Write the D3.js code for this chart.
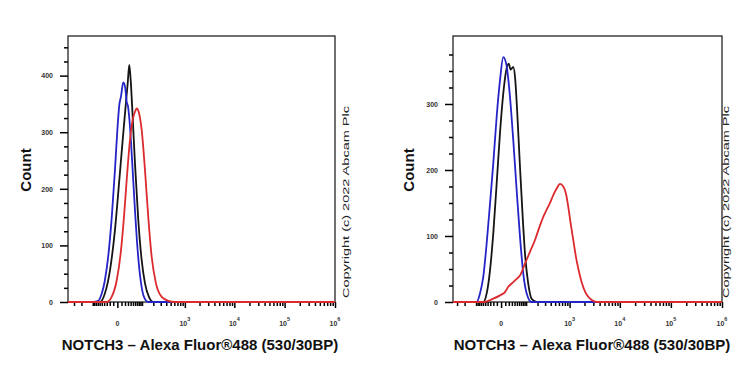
<!DOCTYPE html>
<html>
<head>
<meta charset="utf-8">
<script src="https://cdn.jsdelivr.net/npm/d3@7"></script>
<style>
  body { margin: 0; background: #fff; }
  svg { display: block; }
  text { font-family: "Liberation Sans", Arial, sans-serif; }
</style>
</head>
<body>
<svg id="chart" width="750" height="375"></svg>
<script>
// histogram points: [fluorescence, count]
const leftBlue = [[-96,0],[-67,2],[-50,15],[-37,38],[-25,80],[-14,150],[-5.6,233],[0,304],[4.4,348],[8.6,363],[14.9,388],[20.9,378],[25.4,354],[29.9,346],[37.4,310],[46.8,245],[59.3,162],[73.4,91],[91.2,38],[114,9],[149,0]];
const leftBlack = [[-58,0],[-37,15],[-19.3,56],[-5.6,127],[4.4,215],[13.2,286],[20.9,339],[28.9,386],[34.7,419],[40.2,392],[48.6,327],[59.3,245],[76.8,145],[97.8,74],[121.6,33],[155,9],[200,0]];
const leftRed = [[-30.3,0],[-14.3,9],[-1.5,38],[7.8,86],[16.9,150],[25.4,215],[37.4,286],[48.6,322],[59.3,336],[68,342],[79,336],[97.8,304],[121.6,233],[149,150],[182,80],[232,33],[316,9],[444,2],[620,0]];

const rightBlue = [[-96,0],[-76,13],[-59,38],[-43.8,89],[-31,149],[-20.2,210],[-10.5,281],[-2.4,336],[5,371],[13.8,357],[23.6,311],[35.1,245],[48.9,169],[64.4,99],[82.4,43],[104,13],[142,0]];
const rightBlack = [[-59,0],[-43.8,13],[-31,48],[-20.2,104],[-10.5,180],[-2.4,256],[5,316],[11.9,349],[19.6,361],[25.9,352],[35.1,356],[43,336],[51.5,286],[64.4,205],[78.9,129],[94.6,68],[115,28],[142,5],[190,0]];
const rightRed = [[-59,0],[-20.2,5],[-2.4,10],[9.2,15],[18.4,23],[29.3,28],[48.9,35],[64.4,40],[92.8,58],[128,76],[173,94],[220,113],[273,129],[326,140],[386,150],[455,162],[538,172],[632,179],[741,175],[843,164],[940,144],[1052,119],[1189,94],[1349,68],[1529,48],[1757,30],[2141,13],[2783,3],[3497,0]];

const yMajorLeft = [0, 100, 200, 300, 400];
const yMajorRight = [0, 100, 200, 300];
const xMajor = [0, 1e3, 1e4, 1e5, 1e6];
const xTitle = "NOTCH3 \u2013 Alexa Fluor\u00ae488 (530/30BP)";
const copyright = "Copyright (c) 2022 Abcam Plc";

const colors = { black: "#141414", blue: "#2424c8", red: "#dc2a2e" };

// minor x ticks of the biexponential axis
const xMinor = [-300, -200, -100]
  .concat(d3.range(-90, 0, 10), d3.range(10, 100, 10), d3.range(100, 1000, 100))
  .concat(d3.range(2e3, 1e4, 1e3), d3.range(2e4, 1e5, 1e4), d3.range(2e5, 1e6, 1e5));

const svg = d3.select("#chart");

const panels = [
  { x0: 68, x1: 335, xMin: -410, yMax: 470, yMajor: yMajorLeft,
    series: [[leftBlack, colors.black], [leftBlue, colors.blue], [leftRed, colors.red]],
    countX: 30.5, titleX: 200, copyX: 349 },
  { x0: 453, x1: 722, xMin: -370, yMax: 403, yMajor: yMajorRight,
    series: [[rightBlack, colors.black], [rightBlue, colors.blue], [rightRed, colors.red]],
    countX: 414, titleX: 592, copyX: 729 }
];

const plotTop = 36, plotBottom = 302;

panels.forEach((p, i) => {
  const x = d3.scaleSymlog().constant(48).domain([p.xMin, 1e6]).range([p.x0, p.x1]);
  const y = d3.scaleLinear().domain([0, p.yMax]).range([plotBottom, plotTop]);

  const g = svg.append("g");

  g.append("clipPath").attr("id", "clip" + i)
    .append("rect").attr("x", p.x0).attr("y", plotTop - 2)
    .attr("width", p.x1 - p.x0).attr("height", plotBottom - plotTop + 3);

  // frame
  g.append("rect")
    .attr("x", p.x0).attr("y", plotTop)
    .attr("width", p.x1 - p.x0).attr("height", plotBottom - plotTop)
    .attr("fill", "none").attr("stroke", "#111").attr("stroke-width", 1.2);

  // y axis
  const yMinor = d3.range(0, p.yMax, 25).filter(v => v % 100 !== 0);
  const yAx = g.append("g").attr("transform", `translate(${p.x0},0)`)
    .call(d3.axisLeft(y).tickValues(p.yMajor).tickSize(8).tickPadding(7).tickFormat(d3.format("d")));
  g.append("g").attr("transform", `translate(${p.x0},0)`)
    .call(d3.axisLeft(y).tickValues(yMinor).tickSize(4).tickFormat(""));

  // x axis
  g.append("g").attr("transform", `translate(0,${plotBottom})`)
    .call(d3.axisBottom(x).tickValues(xMajor).tickSize(6).tickFormat(""));
  g.append("g").attr("transform", `translate(0,${plotBottom})`)
    .call(d3.axisBottom(x).tickValues(xMinor).tickSize(4).tickFormat(""));

  g.selectAll(".domain").remove();
  g.selectAll(".tick line").attr("stroke", "#000").attr("stroke-width", 1.5);
  yAx.selectAll("text").attr("font-size", 7).attr("font-weight", "bold").attr("fill", "#333");

  // x tick labels with superscripts
  xMajor.forEach(v => {
    const t = g.append("text")
      .attr("x", x(v)).attr("y", 326)
      .attr("text-anchor", "middle")
      .attr("font-size", 7).attr("font-weight", "bold").attr("fill", "#333");
    if (v === 0) {
      t.text("0");
    } else {
      t.append("tspan").text("10");
      t.append("tspan").attr("dy", -5).attr("font-size", 5.5).text(Math.round(Math.log10(v)));
    }
  });

  // histograms
  const line = d3.line()
    .x(d => x(d[0])).y(d => y(d[1]))
    .curve(d3.curveMonotoneX);

  const plot = g.append("g").attr("clip-path", `url(#clip${i})`);
  p.series.forEach(([pts, col]) => {
    plot.append("path")
      .datum([[p.xMin, 0], ...pts, [1e6, 0]])
      .attr("d", line)
      .attr("fill", "none")
      .attr("stroke", col)
      .attr("stroke-width", 1.8)
      .attr("stroke-linejoin", "round");
  });

  // labels
  g.append("text")
    .attr("transform", `translate(${p.countX},170) rotate(-90)`)
    .attr("text-anchor", "middle")
    .attr("font-size", 15).attr("font-weight", "bold").attr("fill", "#111")
    .text("Count");

  g.append("text")
    .attr("x", p.titleX).attr("y", 350)
    .attr("text-anchor", "middle")
    .attr("font-size", 15).attr("font-weight", "bold").attr("fill", "#111")
    .text(xTitle);

  g.append("text")
    .attr("transform", `translate(${p.copyX},298) rotate(-90)`)
    .attr("font-size", 9.5).attr("fill", "#222")
    .attr("textLength", 192).attr("lengthAdjust", "spacingAndGlyphs")
    .text(copyright);
});
</script>
</body>
</html>
